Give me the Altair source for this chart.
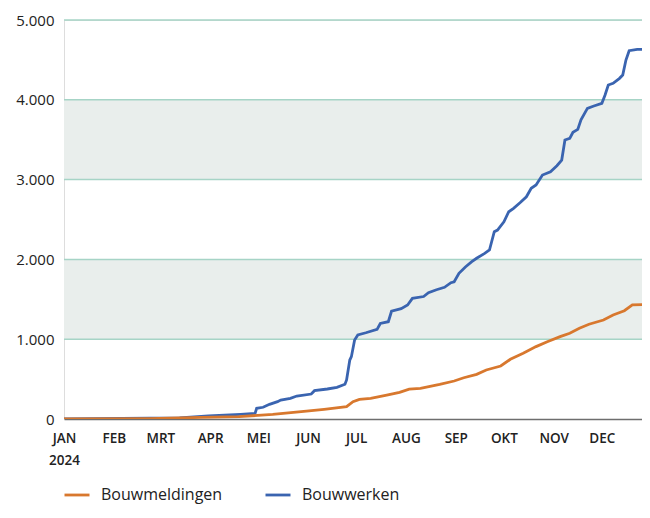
import altair as alt
import pandas as pd

# ---- data ----
series_names = ["Bouwmeldingen", "Bouwwerken"]
series_colors = ["#d8782e", "#3a64b0"]

bouwwerken_dates = [
    "2024-01-01", "2024-03-13", "2024-03-31", "2024-04-20", "2024-04-29", "2024-04-30",
    "2024-05-04", "2024-05-08", "2024-05-13", "2024-05-15", "2024-05-21", "2024-05-25",
    "2024-06-03", "2024-06-05", "2024-06-13", "2024-06-19", "2024-06-24", "2024-06-25",
    "2024-06-27", "2024-06-28", "2024-06-30", "2024-07-02", "2024-07-07", "2024-07-14",
    "2024-07-16", "2024-07-21", "2024-07-23", "2024-07-29", "2024-08-02", "2024-08-05",
    "2024-08-12", "2024-08-15", "2024-08-20", "2024-08-25", "2024-08-29", "2024-08-31",
    "2024-09-03", "2024-09-07", "2024-09-11", "2024-09-14", "2024-09-19", "2024-09-22",
    "2024-09-25", "2024-09-27", "2024-10-01", "2024-10-04", "2024-10-07", "2024-10-11",
    "2024-10-15", "2024-10-18", "2024-10-21", "2024-10-25", "2024-10-30", "2024-11-03",
    "2024-11-06", "2024-11-08", "2024-11-11", "2024-11-13", "2024-11-16", "2024-11-18",
    "2024-11-22", "2024-11-26", "2024-12-01", "2024-12-03", "2024-12-05", "2024-12-08",
    "2024-12-12", "2024-12-14", "2024-12-16", "2024-12-18", "2024-12-23", "2024-12-31",
]
bouwwerken_values = [
    0, 13, 38, 59, 71, 134,
    147, 184, 217, 238, 259, 288,
    313, 355, 376, 397, 435, 489,
    739, 781, 990, 1053, 1081, 1124,
    1197, 1219, 1350, 1382, 1428, 1512,
    1535, 1583, 1620, 1650, 1708, 1720,
    1826, 1905, 1971, 2014, 2076, 2118,
    2347, 2368, 2472, 2597, 2640, 2710,
    2785, 2891, 2932, 3057, 3099, 3174,
    3245, 3496, 3517, 3592, 3630, 3750,
    3893, 3922, 3956, 4060, 4185, 4206,
    4269, 4310, 4498, 4615, 4632, 4632,
]

bouwmeldingen_dates = [
    "2024-01-01", "2024-02-23", "2024-03-26", "2024-04-19", "2024-05-10", "2024-05-31",
    "2024-06-11", "2024-06-25", "2024-06-29", "2024-07-03", "2024-07-10", "2024-07-20",
    "2024-07-28", "2024-08-03", "2024-08-10", "2024-08-22", "2024-08-31", "2024-09-06",
    "2024-09-14", "2024-09-20", "2024-09-29", "2024-10-05", "2024-10-13", "2024-10-21",
    "2024-10-28", "2024-11-05", "2024-11-11", "2024-11-17", "2024-11-23", "2024-12-02",
    "2024-12-08", "2024-12-15", "2024-12-20", "2024-12-31",
]
bouwmeldingen_values = [
    0, 5, 20, 30, 58, 100,
    121, 154, 217, 246, 259, 300,
    334, 375, 384, 434, 476, 517,
    560, 614, 664, 748, 823, 907,
    969, 1032, 1074, 1137, 1187, 1241,
    1303, 1357, 1429, 1437,
]

month_labels = ["JAN", "FEB", "MRT", "APR", "MEI", "JUN", "JUL", "AUG", "SEP", "OKT", "NOV", "DEC"]
year_label = "2024"
y_ticks = [0, 1000, 2000, 3000, 4000, 5000]
band_lo = [1000, 3000]
band_hi = [2000, 4000]

# ---- tables ----
df = pd.concat([
    pd.DataFrame({"date": bouwmeldingen_dates, "value": bouwmeldingen_values, "series": series_names[0]}),
    pd.DataFrame({"date": bouwwerken_dates, "value": bouwwerken_values, "series": series_names[1]}),
], ignore_index=True)
bands = pd.DataFrame({"lo": band_lo, "hi": band_hi})
grid = pd.DataFrame({"v": y_ticks[1:]})

FONT = "Open Sans"

month_arr = "[" + ",".join(f"'{m}'" for m in month_labels) + "]"
x_label_expr = (
    f"utcmonth(datum.value)==0 ? ['{month_labels[0]}','{year_label}'] : {month_arr}[utcmonth(datum.value)]"
)
x_values = [alt.DateTime(year=2024, month=m, date=1, utc=True) for m in range(1, 13)]

x_enc = alt.X(
    "date:T",
    scale=alt.Scale(
        type="utc",
        domain=[alt.DateTime(year=2024, month=1, date=1, utc=True),
                alt.DateTime(year=2024, month=12, date=26, utc=True)],
    ),
    axis=alt.Axis(
        title=None, values=x_values, labelExpr=x_label_expr, ticks=False, grid=False,
        domainColor="#6e6e6e", domainWidth=1.5, labelFont=FONT, labelFontSize=13.5,
        labelFontWeight=600, labelColor="#222222", labelPadding=12, labelAlign="center",
        labelFlush=False, labelOverlap=False, labelLineHeight=22,
    ),
)
y_scale = alt.Scale(domain=[0, 5000], nice=False)
y_enc = alt.Y(
    "value:Q",
    scale=y_scale,
    axis=alt.Axis(
        title=None, values=y_ticks, grid=False, ticks=False, domain=False,
        labelExpr="replace(format(datum.value, ','), ',', '.')",
        labelFont=FONT, labelFontSize=15, labelColor="#222222", labelPadding=10,
    ),
)
color_enc = alt.Color(
    "series:N",
    scale=alt.Scale(domain=series_names, range=series_colors),
    legend=alt.Legend(
        title=None, orient="none", legendX=-1, legendY=461, direction="horizontal",
        symbolType="stroke", symbolStrokeWidth=2.8, symbolSize=625,
        labelFont=FONT, labelFontSize=16, labelColor="#222222",
        columnPadding=36, labelOffset=10,
    ),
)

band_layer = alt.Chart(bands).mark_rect(color="#e9eeec").encode(
    y=alt.Y("lo:Q", scale=y_scale), y2="hi:Q"
)
grid_layer = alt.Chart(grid).mark_rule(color="#a6d4c6", strokeWidth=1.5).encode(
    y=alt.Y("v:Q", scale=y_scale)
)
blue_layer = alt.Chart(df).transform_filter(
    alt.datum.series == series_names[1]
).mark_line(strokeWidth=2.8, clip=True).encode(x=x_enc, y=y_enc, color=color_enc)
orange_layer = alt.Chart(df).transform_filter(
    alt.datum.series == series_names[0]
).mark_line(strokeWidth=2.8, clip=True).encode(x=x_enc, y=y_enc, color=color_enc)

chart = alt.layer(band_layer, grid_layer, blue_layer, orange_layer).properties(
    width=578, height=399,
    padding={"left": 56, "top": 12, "right": 0, "bottom": 91},
    autosize=alt.AutoSizeParams(type="none"),
).configure_view(fill="#f4f6f5", stroke=None).configure(background="white")

chart.save("out.html", embed_options={"renderer": "svg", "actions": False})
